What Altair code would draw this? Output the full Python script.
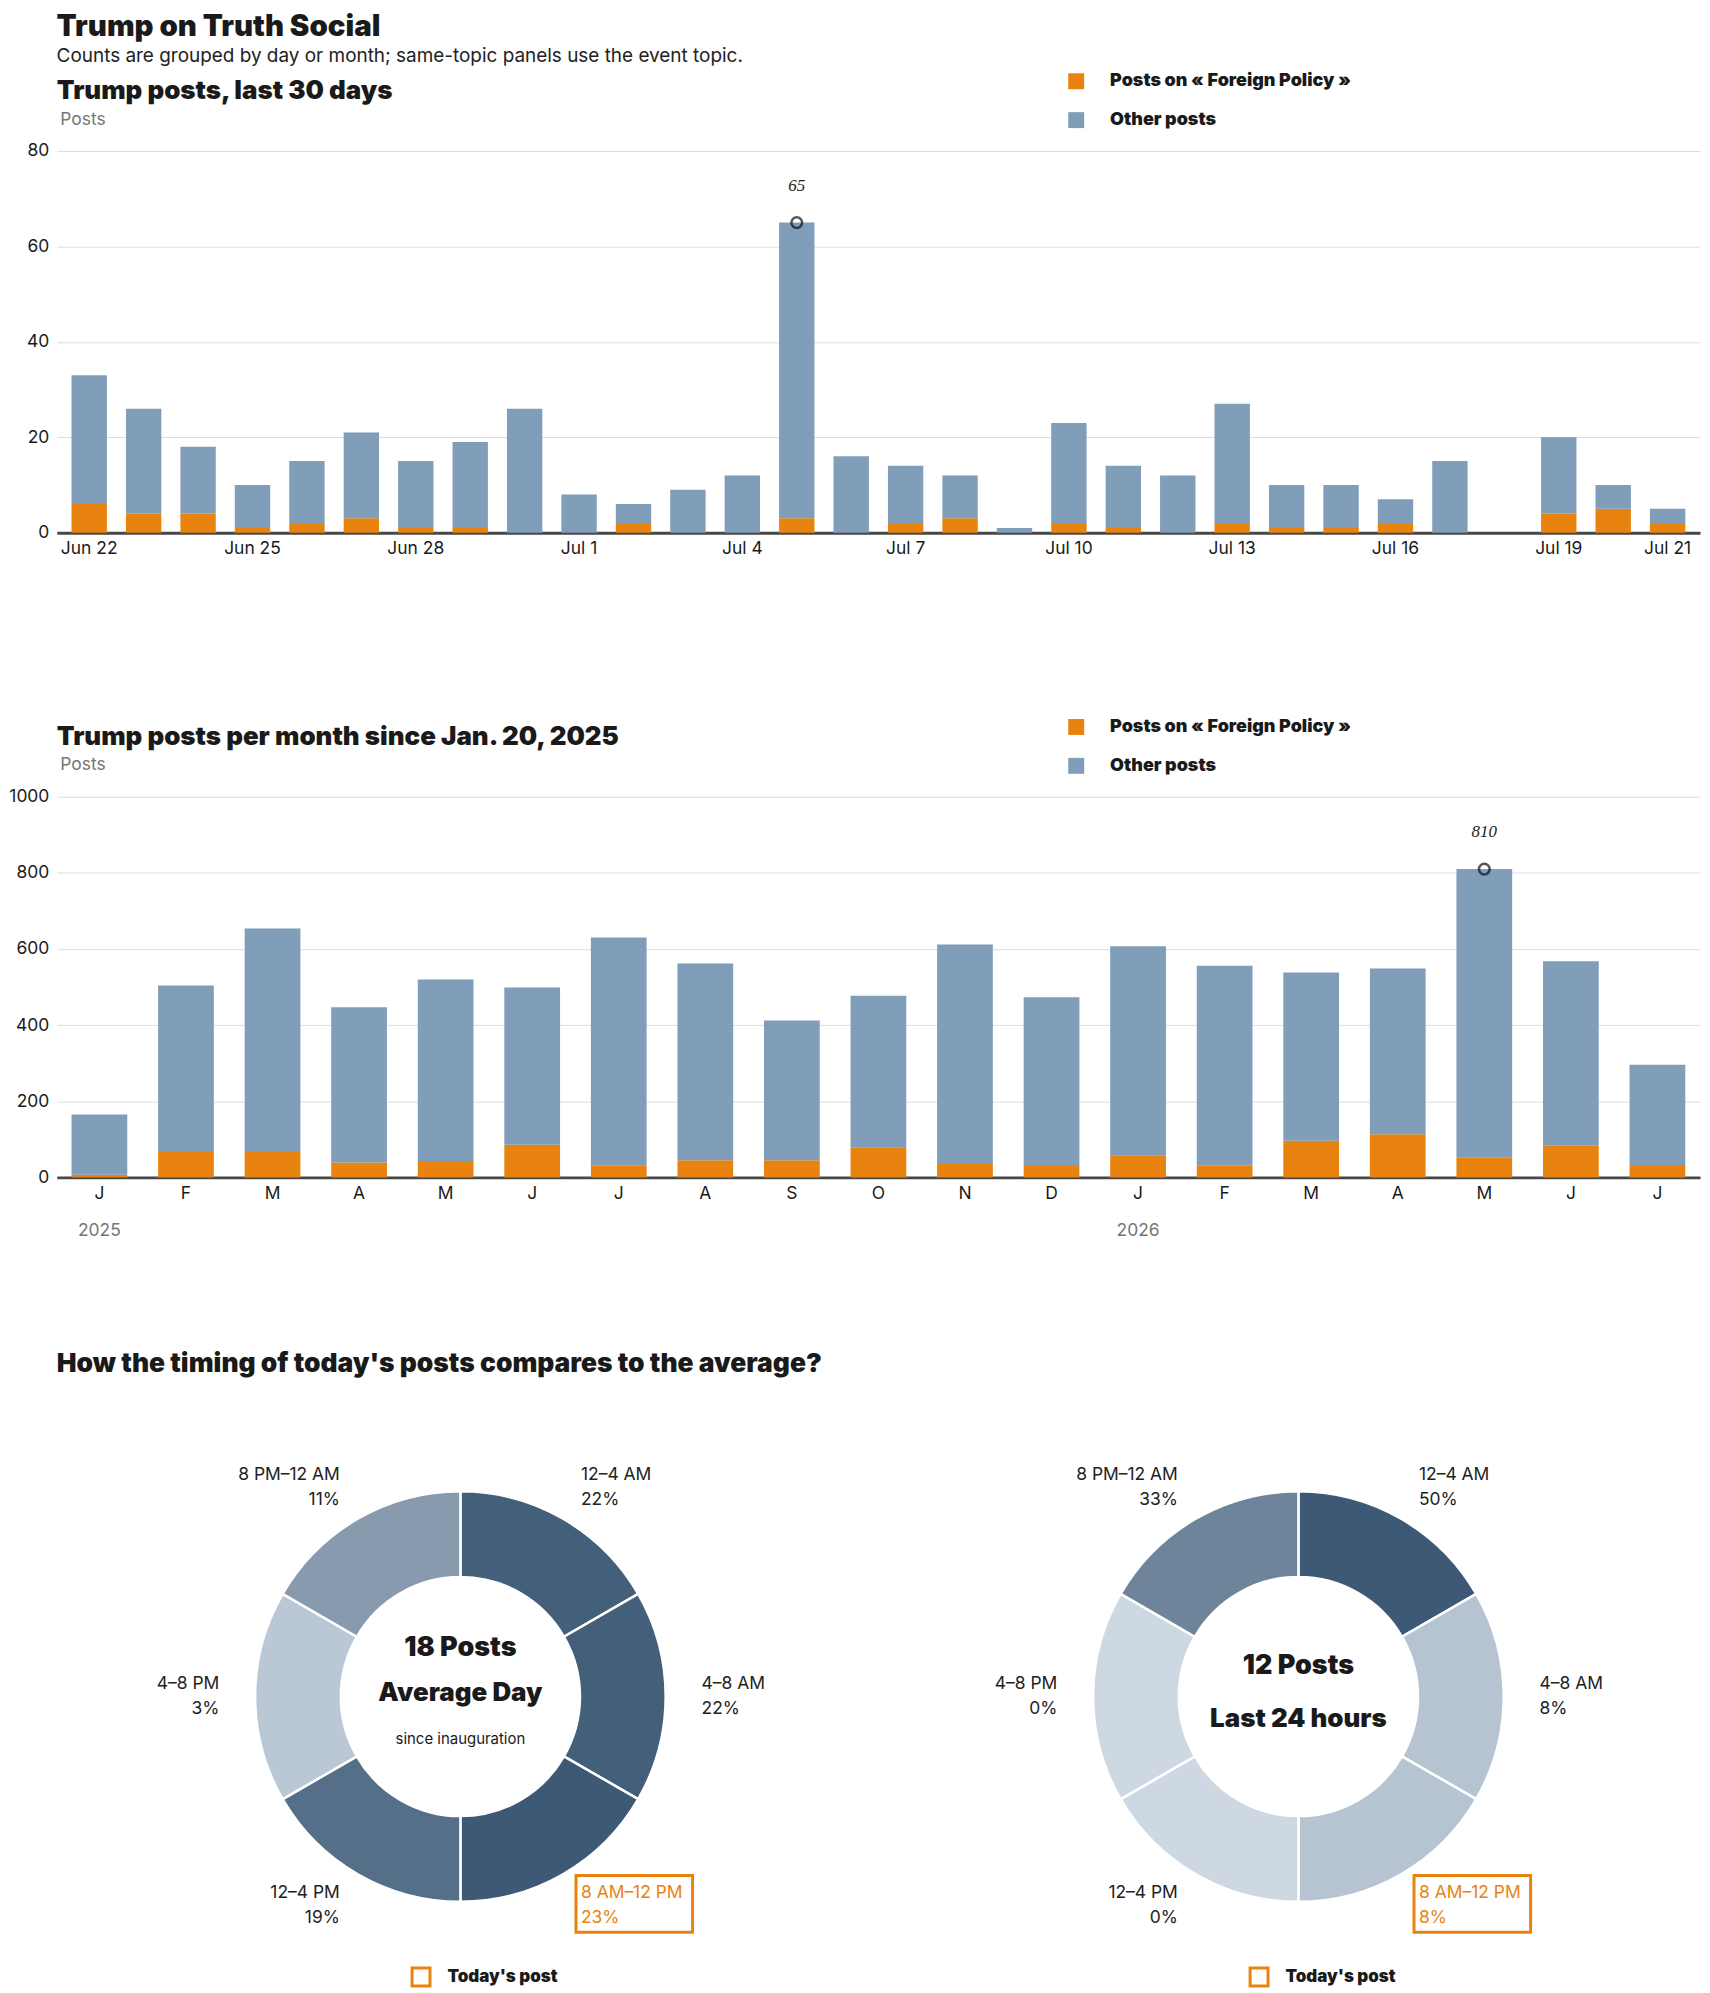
import altair as alt
import pandas as pd

# ---------------- data ----------------
day_labels = ["Jun 22", "Jun 23", "Jun 24", "Jun 25", "Jun 26", "Jun 27", "Jun 28", "Jun 29",
              "Jun 30", "Jul 1", "Jul 2", "Jul 3", "Jul 4", "Jul 5", "Jul 6", "Jul 7", "Jul 8",
              "Jul 9", "Jul 10", "Jul 11", "Jul 12", "Jul 13", "Jul 14", "Jul 15", "Jul 16",
              "Jul 17", "Jul 18", "Jul 19", "Jul 20", "Jul 21"]
day_totals = [33, 26, 18, 10, 15, 21, 15, 19, 26, 8, 6, 9, 12, 65, 16, 14, 12, 1, 23, 14, 12,
              27, 10, 10, 7, 15, 0, 20, 10, 5]
day_foreign = [6, 4, 4, 1, 2, 3, 1, 1, 0, 0, 2, 0, 0, 3, 0, 2, 3, 0, 2, 1, 0, 2, 1, 1, 2, 0,
               0, 4, 5, 2]
day_ticks = ["Jun 22", "Jun 25", "Jun 28", "Jul 1", "Jul 4", "Jul 7", "Jul 10", "Jul 13",
             "Jul 16", "Jul 19", "Jul 21"]

month_keys = ["2025-01", "2025-02", "2025-03", "2025-04", "2025-05", "2025-06", "2025-07",
              "2025-08", "2025-09", "2025-10", "2025-11", "2025-12", "2026-01", "2026-02",
              "2026-03", "2026-04", "2026-05", "2026-06", "2026-07"]
month_totals = [165, 504, 654, 447, 520, 499, 630, 562, 412, 477, 612, 473, 607, 556, 538,
                549, 810, 568, 296]
month_foreign = [7, 69, 69, 39, 43, 86, 32, 45, 45, 79, 38, 30, 58, 32, 96, 113, 53, 83, 30]
year_ticks = ["2025-01", "2026-01"]

slots = ["12–4 AM", "4–8 AM", "8 AM–12 PM", "12–4 PM", "4–8 PM", "8 PM–12 AM"]
avg_share = [22, 22, 23, 19, 3, 11]
today_share = [50, 8, 8, 0, 0, 33]
today_slot = "8 AM–12 PM"
avg_posts = 18
today_posts = 12

FP = "Posts on « Foreign Policy »"
OTHER = "Other posts"
TODAY_KEY = "Today's post"

# ---------------- styles ----------------
ORANGE = "#e8830f"
BLUE = "#809db9"
LIGHT = "#cdd8e2"
DARK = "#3d5975"
FONT = "Inter, 'Open Sans', sans-serif"
HEAVY = "Inter, Lato, sans-serif"
SERIF = "'Liberation Serif', 'DejaVu Serif', serif"
INK = "#1a1a1a"
GREY = "#767676"
LAB = 17.5

PLOT_W = 1649
PLOT_H = 383


def stacked_frame(keys, totals, foreign):
    rows = []
    for k, t, f in zip(keys, totals, foreign):
        rows.append(dict(key=k, series=FP, posts=f, ord=0, total=t))
        rows.append(dict(key=k, series=OTHER, posts=t - f, ord=1, total=t))
    return pd.DataFrame(rows)


def bar_legend():
    return alt.Legend(title=None, orient="none", legendX=1014, legendY=-79,
                      symbolType="square", symbolSize=256, symbolStrokeWidth=0,
                      labelFont=HEAVY, labelFontWeight=900, labelFontSize=18,
                      labelColor=INK, labelOffset=25, rowPadding=21, padding=0,
                      labelLimit=500)


def y_axis(values):
    return alt.Axis(values=values, format="d", title="Posts", titleAngle=0,
                    titleAlign="left", titleBaseline="middle", titleX=3, titleY=-32,
                    titleColor=GREY, titleFont=FONT, titleFontWeight="normal",
                    titleFontSize=LAB, grid=True, gridColor="#dddddd", domain=False,
                    ticks=False, tickSize=0, labelPadding=8, labelFontSize=LAB,
                    labelColor=INK, labelFont=FONT)


def panel_title(text):
    return alt.TitleParams(text, anchor="start", frame="group", font=HEAVY, fontSize=26,
                           fontWeight=900, color=INK, offset=8, dy=40)


def bar_layers(df, keys, ymax, yvals, xaxis, pin, pout):
    xs = alt.Scale(paddingInner=pin, paddingOuter=pout)
    bars = alt.Chart(df).mark_bar().encode(
        x=alt.X("key:N", sort=keys, scale=xs, title=None, axis=xaxis),
        y=alt.Y("posts:Q", stack="zero", title="Posts",
                scale=alt.Scale(domain=[0, ymax], nice=False), axis=y_axis(yvals)),
        color=alt.Color("series:N", scale=alt.Scale(domain=[FP, OTHER], range=[ORANGE, BLUE]),
                        legend=bar_legend()),
        order=alt.Order("ord:Q", sort="ascending"),
    )
    peak = (alt.Chart(df).transform_filter("datum.ord == 1")
            .transform_joinaggregate(mx="max(total)")
            .transform_filter("datum.total == datum.mx"))
    return bars, peak


def x_axis(**kw):
    return alt.Axis(title=None, labelAngle=0, domain=True, domainColor="#474747",
                    domainWidth=3, ticks=False, tickSize=0, labelPadding=7,
                    labelFontSize=LAB, labelColor=INK, labelFont=FONT, grid=False, **kw)


def peak_marks(peak, keys, xaxis_point, xaxis_text):
    xp = alt.X("key:N", sort=keys, title=None) if xaxis_point is None else \
        alt.X("key:N", sort=keys, title=None, axis=xaxis_point)
    point = peak.mark_point(shape="circle", filled=False, size=115, strokeWidth=2.5,
                            color="#111").encode(x=xp, y=alt.Y("total:Q", title="Posts"))
    xt = alt.X("key:N", sort=keys, title=None) if not xaxis_text else \
        alt.X("key:N", sort=keys, title=None, axis=None)
    text = peak.mark_text(dy=-37, font=SERIF, fontStyle="italic", fontSize=17,
                          color="#222").encode(
        x=xt, y=alt.Y("total:Q", title="Posts"), text="total:Q")
    return point, text


# ---- daily panel ----
daily_df = stacked_frame(day_labels, day_totals, day_foreign)
d_bars, d_peak = bar_layers(daily_df, day_labels, 80, [0, 20, 40, 60, 80],
                            x_axis(values=day_ticks), 0.35, 0.27)
d_point, d_text = peak_marks(d_peak, day_labels, None, False)
daily = alt.layer(d_bars, d_point, d_text).properties(
    width=PLOT_W, height=PLOT_H, title=panel_title("Trump posts, last 30 days"))

# ---- monthly panel ----
monthly_df = stacked_frame(month_keys, month_totals, month_foreign)
month_xaxis = x_axis(orient="bottom",
                     labelExpr="['J','F','M','A','M','J','J','A','S','O','N','D']"
                               "[toNumber(slice(datum.value, 5, 7)) - 1]")
year_xaxis = alt.Axis(orient="bottom", values=year_ticks, title=None, labelAngle=0,
                      domain=False, ticks=False, tickSize=0, labelPadding=44,
                      labelFontSize=LAB, labelColor=GREY, labelFont=FONT, grid=False,
                      labelExpr="slice(datum.value, 0, 4)")
m_bars, m_peak = bar_layers(monthly_df, month_keys, 1000, [0, 200, 400, 600, 800, 1000],
                            month_xaxis, 0.356, 0.17)
m_point, m_text = peak_marks(m_peak, month_keys, year_xaxis, True)
monthly = alt.layer(m_bars, m_point, m_text).resolve_axis(x="independent").properties(
    width=PLOT_W, height=382,
    title=panel_title("Trump posts per month since Jan. 20, 2025"))

# ---- donuts ----
W_D, H_D = 810, 520
R_IN, R_OUT, R_LAB = 120, 206, 242
LINE_H = 25


def donut(shares, center_lines):
    df = pd.DataFrame({"slot": slots, "share": shares, "idx": list(range(len(slots))),
                       "today": [s == today_slot for s in slots], "one": 1})
    xs = alt.Scale(domain=[-W_D / 2, W_D / 2], nice=False, zero=False)
    ys = alt.Scale(domain=[-H_D / 2, H_D / 2], nice=False, zero=False)
    base = alt.Chart(df).transform_joinaggregate(mx="max(share)").transform_calculate(
        rel="datum.share / datum.mx",
        mid="(datum.idx + 0.5) * PI / 3",
    ).transform_calculate(
        lx=f"{R_LAB} * sin(datum.mid)",
        ly=f"{R_LAB} * cos(datum.mid)",
        label="datum.slot + '\\n' + datum.share + '%'",
        key='"Today\'s post"',
    )
    arcs = base.mark_arc(innerRadius=R_IN, outerRadius=R_OUT, stroke="white",
                         strokeWidth=2.5).encode(
        theta=alt.Theta("one:Q", stack=True),
        order=alt.Order("idx:Q"),
        color=alt.Color("rel:Q", scale=alt.Scale(domain=[0, 1], range=[LIGHT, DARK],
                                                 interpolate="rgb"), legend=None),
    )
    tcolor = alt.condition("datum.today", alt.value(ORANGE), alt.value("#222"))
    labels = []
    for cond, al in (("datum.idx < 3", "left"), ("datum.idx >= 3", "right")):
        labels.append(base.transform_filter(cond).mark_text(
            align=al, baseline="middle", lineBreak="\n", font=FONT, fontSize=LAB,
            lineHeight=LINE_H, dy=-LINE_H / 2).encode(
            x=alt.X("lx:Q", scale=xs, axis=None), y=alt.Y("ly:Q", scale=ys, axis=None),
            text="label:N", color=tcolor))
    box = base.transform_filter("datum.today").transform_calculate(
        bx1="datum.lx - 5", bx2="datum.lx + 112", by1="datum.ly + 30",
        by2="datum.ly - 27").mark_rect(fill="transparent", fillOpacity=0,
                                       strokeWidth=3).encode(
        x=alt.X("bx1:Q", scale=xs, axis=None), x2="bx2:Q",
        y=alt.Y("by1:Q", scale=ys, axis=None), y2="by2:Q",
        stroke=alt.Stroke("key:N", scale=alt.Scale(domain=[TODAY_KEY], range=[ORANGE]),
                          legend=alt.Legend(title=None, orient="none", legendX=355,
                                            legendY=531, symbolType="square",
                                            symbolSize=324, symbolStrokeWidth=3,
                                            symbolFillColor="white", symbolOpacity=1,
                                            labelFont=HEAVY,
                                            labelFontWeight=900, labelFontSize=17,
                                            labelColor=INK, labelOffset=16, padding=0,
                                            labelLimit=300)))
    layers = [arcs] + labels + [box]
    for text, dy, size, weight in center_lines:
        layers.append(
            alt.Chart(pd.DataFrame({"t": [text]})).mark_text(
                dy=dy, fontSize=size, fontWeight=weight,
                font=HEAVY if weight != "normal" else FONT, color=INK,
                baseline="middle", align="center").encode(
                x=alt.XDatum(0, scale=xs, axis=None),
                y=alt.YDatum(0, scale=ys, axis=None),
                text="t:N"))
    return alt.layer(*layers).properties(width=W_D, height=H_D)


donut_avg = donut(avg_share, [(f"{avg_posts} Posts", -49, 27, 900),
                              ("Average Day", -4, 26, 900),
                              ("since inauguration", 43, 15, "normal")])
donut_today = donut(today_share, [(f"{today_posts} Posts", -31, 27, 900),
                                  ("Last 24 hours", 23, 26, 900)])
donuts = alt.hconcat(donut_avg, donut_today, spacing=31).resolve_scale(
    stroke="independent").resolve_legend(stroke="independent").properties(
    title=alt.TitleParams("How the timing of today's posts compares to the average?",
                          anchor="start", frame="group", font=HEAVY, fontSize=26.5,
                          fontWeight=900, color=INK, offset=60))

bars_block = alt.vconcat(daily, monthly, spacing=161).resolve_scale(
    color="independent").resolve_legend(color="independent")

chart = alt.vconcat(bars_block, donuts, spacing=112).resolve_scale(
    color="independent", stroke="independent").resolve_legend(
    color="independent", stroke="independent").properties(
    padding=0,
    background="white",
    title=alt.TitleParams("Trump on Truth Social", anchor="start", font=HEAVY,
                          fontSize=29.5, fontWeight=900, color=INK, dx=48,
                          subtitle="Counts are grouped by day or month; same-topic panels use the event topic.",
                          subtitleFont=FONT, subtitleFontSize=19, subtitleColor="#222",
                          subtitlePadding=5, offset=5),
).configure_view(stroke=None)

chart.save("out.html", embed_options={"renderer": "svg", "actions": False})
